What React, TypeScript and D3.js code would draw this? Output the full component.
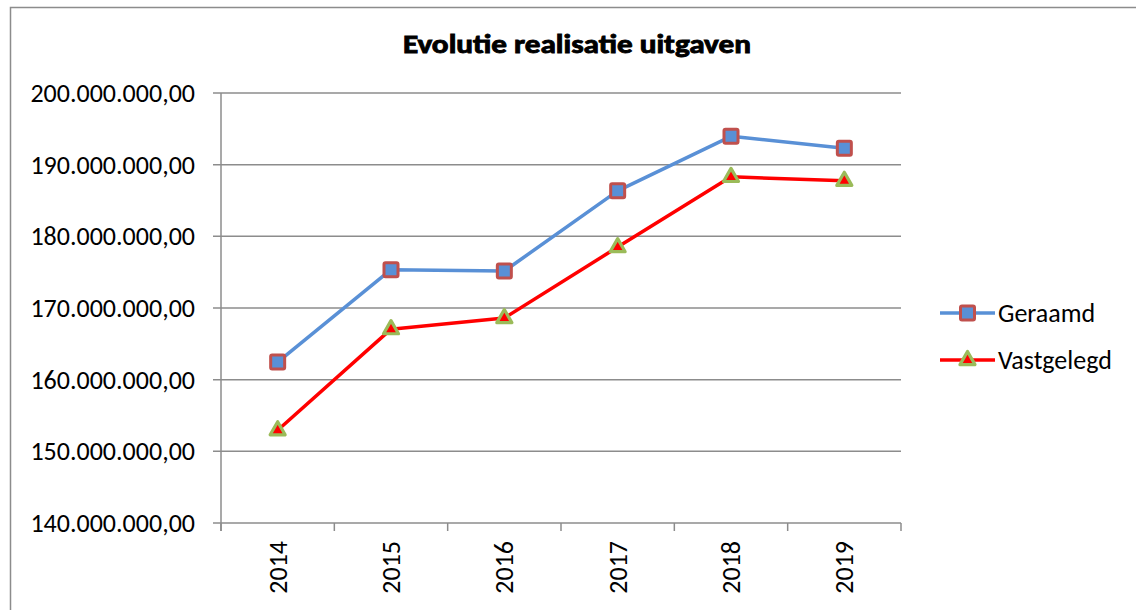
import React from "react";
import * as d3 from "d3";

const years = ["2014", "2015", "2016", "2017", "2018", "2019"];
const geraamd = [162.45e6, 175.35e6, 175.15e6, 186.35e6, 193.95e6, 192.3e6];
const vastgelegd = [152.95e6, 167.05e6, 168.6e6, 178.5e6, 188.3e6, 187.75e6];
const yTicks = [140e6, 150e6, 160e6, 170e6, 180e6, 190e6, 200e6];
const title = "Evolutie realisatie uitgaven";
const seriesNames = ["Geraamd", "Vastgelegd"];

const W = 1136;
const H = 610;
const plot = { left: 221, right: 901, top: 93, bottom: 523 };
const FONT = "Carlito, Calibri, Lato, 'Open Sans', sans-serif";
const GRID = "#8c8c8c";
const BLUE = "#5990D6";
const RED = "#FF0000";
const SQ_STROKE = "#C0504D";
const TRI_STROKE = "#9BBB59";

const fmt = (v: number) => {
  const s = d3.format(",.2f")(v);
  return s.replace(/,/g, "#").replace(".", ",").replace(/#/g, ".");
};

function Square({ x, y }: { x: number; y: number }) {
  return (
    <rect x={x - 7} y={y - 7} width={14} height={14} fill={BLUE} stroke={SQ_STROKE} strokeWidth={3} rx={1.5} />
  );
}

function Triangle({ x, y }: { x: number; y: number }) {
  const s = 7.5;
  const p = `M${x},${y - s} L${x + s},${y + s * 0.75} L${x - s},${y + s * 0.75} Z`;
  return <path d={p} fill={RED} stroke={TRI_STROKE} strokeWidth={3.2} strokeLinejoin="round" />;
}

export default function App() {
  const x = d3.scaleBand<string>().domain(years).range([plot.left, plot.right]);
  const y = d3.scaleLinear().domain([140e6, 200e6]).range([plot.bottom, plot.top]);
  const cx = (yr: string) => (x(yr) as number) + x.bandwidth() / 2;
  const line = d3
    .line<number>()
    .x((_, i) => cx(years[i]))
    .y((d) => y(d));
  const boundaries = years.map((yr) => x(yr) as number).concat([plot.right]);

  return (
    <svg width={W} height={H} style={{ position: "absolute", left: 0, top: 0 }} fontFamily={FONT}>
      <rect x={0} y={0} width={W} height={H} fill="#fff" />
      <rect x={10.5} y={7.5} width={W + 20} height={H + 20} fill="none" stroke={GRID} strokeWidth={1.5} />
      <text
        x={577}
        y={53}
        textAnchor="middle"
        fontSize={27}
        fontWeight={900}
        fill="#000"
        stroke="#000"
        strokeWidth={0.9}
        textLength={348}
        lengthAdjust="spacingAndGlyphs"
      >
        {title}
      </text>
      {yTicks.map((t) => (
        <g key={t}>
          <line x1={plot.left - 8} x2={plot.right} y1={y(t)} y2={y(t)} stroke={GRID} strokeWidth={1.5} />
          <text x={plot.left - 26} y={y(t)} dy="0.35em" textAnchor="end" fontSize={26} fill="#000">
            {fmt(t)}
          </text>
        </g>
      ))}
      <line x1={plot.left} x2={plot.left} y1={plot.top} y2={plot.bottom + 8} stroke={GRID} strokeWidth={1.5} />
      {boundaries.map((b, i) => (
        <line key={i} x1={b} x2={b} y1={plot.bottom} y2={plot.bottom + 8} stroke={GRID} strokeWidth={1.5} />
      ))}
      {years.map((yr) => (
        <text
          key={yr}
          transform={`translate(${cx(yr)},${plot.bottom + 18}) rotate(-90)`}
          textAnchor="end"
          dy="0.35em"
          fontSize={26}
          fill="#000"
        >
          {yr}
        </text>
      ))}
      <path d={line(geraamd) || ""} fill="none" stroke={BLUE} strokeWidth={3.5} strokeLinejoin="round" />
      <path d={line(vastgelegd) || ""} fill="none" stroke={RED} strokeWidth={3.5} strokeLinejoin="round" />
      {geraamd.map((v, i) => (
        <Square key={i} x={cx(years[i])} y={y(v)} />
      ))}
      {vastgelegd.map((v, i) => (
        <Triangle key={i} x={cx(years[i])} y={y(v) - 1} />
      ))}
      <g>
        <line x1={940} x2={995} y1={313} y2={313} stroke={BLUE} strokeWidth={3.5} />
        <Square x={967.5} y={313} />
        <text x={998} y={313} dy="0.35em" fontSize={26} fill="#000">
          {seriesNames[0]}
        </text>
        <line x1={940} x2={995} y1={360} y2={360} stroke={RED} strokeWidth={3.5} />
        <Triangle x={967.5} y={359} />
        <text x={998} y={360} dy="0.35em" fontSize={26} fill="#000">
          {seriesNames[1]}
        </text>
      </g>
    </svg>
  );
}
